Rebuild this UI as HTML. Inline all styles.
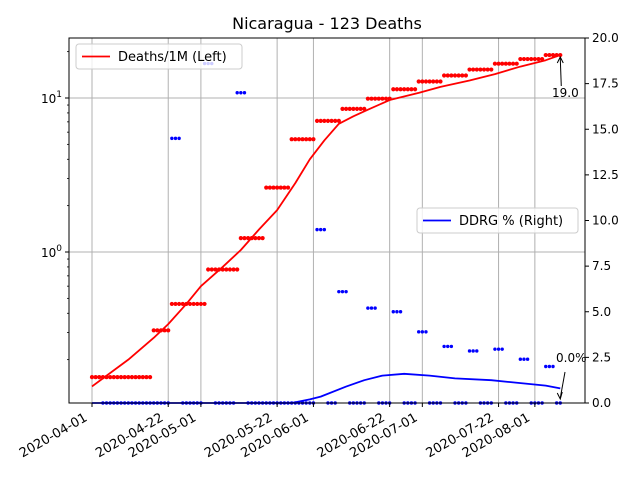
<!DOCTYPE html>
<html><head><meta charset="utf-8"><style>
body{margin:0;background:#fff}
svg text{font-family:"DejaVu Sans","Liberation Sans",sans-serif}
</style></head><body>
<svg id="c" width="640" height="480" xmlns="http://www.w3.org/2000/svg"></svg>
<script>
// ---- data ----
const startDate = "2020-04-01";
const tickLabels = ["2020-04-01","2020-04-22","2020-05-01","2020-05-22","2020-06-01","2020-06-22","2020-07-01","2020-07-22","2020-08-01"];
const tickDays = [0,21,30,51,61,82,91,112,122];
const rightTicks = [0,2.5,5,7.5,10,12.5,15,17.5,20];
// deaths step groups: start day, end day, deaths per 1M
const stepStart = [0,17,22,32,41,48,55,62,69,76,83,90,97,104,111,118,125];
const stepEnd   = [16,21,31,40,47,54,61,68,75,82,89,96,103,110,117,124,129];
const stepVal   = [0.154,0.31,0.46,0.77,1.23,2.62,5.4,7.1,8.5,9.9,11.4,12.8,14.0,15.3,16.7,17.9,19.0];
// smoothed deaths line
const lineDays = [0,10,17,21,26,30,36,41,46,51,56,60,64,68,72,76,82,90,96,104,111,118,125,129];
const lineVals = [0.134,0.2,0.277,0.34,0.46,0.6,0.8,1.03,1.4,1.87,2.8,4.0,5.3,6.8,7.6,8.4,9.7,10.8,11.8,13.0,14.3,16.0,17.6,19.0];
// DDRG spikes
const spikeStart = [22,31,40,62,68,76,83,90,97,104,111,118,125];
const spikeVal   = [14.5,18.6,17.0,9.5,6.1,5.2,5.0,3.9,3.1,2.85,2.95,2.4,2.0];
const ddrgDays = [0,50,55,60,63,70,75,80,86,93,100,110,115,125,129];
const ddrgVals = [0,0,0,0.2,0.35,0.9,1.25,1.5,1.6,1.5,1.35,1.25,1.15,0.95,0.8];

// ---- axes ----
const L=69,R=585,T=38,B=403;
const x=d=>92+d*3.63;
const yl=v=>252-154*Math.log10(v);
const yr=v=>B-(v/20)*(B-T);
const svg=document.getElementById('c');
const NS="http://www.w3.org/2000/svg";
function el(t,a,p){const e=document.createElementNS(NS,t);for(const k in a)e.setAttribute(k,a[k]);(p||svg).appendChild(e);return e;}

// grid
tickDays.forEach(d=>{const g=el('line',{x1:x(d),x2:x(d),y1:T,y2:B,stroke:'#b0b0b0','stroke-width':1});

});
[1,10].forEach(v=>{const g=el('line',{x1:L,x2:R,y1:yl(v),y2:yl(v),stroke:'#b0b0b0','stroke-width':1});

});

// red line
let pts=lineDays.map((d,i)=>x(d)+','+yl(lineVals[i])).join(' ');
const rl=el('polyline',{points:pts,fill:'none',stroke:'#ff0000','stroke-width':1.8,'stroke-linejoin':'round'});


// red dots
stepStart.forEach((s,i)=>{for(let d=s;d<=stepEnd[i];d++){const c=el('circle',{cx:x(d),cy:yl(stepVal[i]),r:2.1,fill:'#ff0000'});

}});
// blue line
pts=ddrgDays.map((d,i)=>x(d)+','+yr(ddrgVals[i])).join(' ');
const bl=el('polyline',{points:pts,fill:'none',stroke:'#0000ff','stroke-width':1.8,'stroke-linejoin':'round'});


// blue dots
const spikeDays={};spikeStart.forEach((s,i)=>{for(let k=0;k<3;k++)spikeDays[s+k]=spikeVal[i];});
for(let d=3;d<=129;d++){const v=spikeDays[d]!==undefined?spikeDays[d]:0;
const c=el('circle',{cx:x(d),cy:yr(v),r:1.7,fill:'#0000ff'});

}

// frame
const fr=el('rect',{x:L,y:T,width:R-L,height:B-T,fill:'none',stroke:'#000','stroke-width':1});



// x ticks
tickDays.forEach((d,i)=>{el('line',{x1:x(d),x2:x(d),y1:B,y2:B+4,stroke:'#000'});
const ax=x(d)-4, ay=B+17;
const t=el('text',{x:ax,y:ay,'font-size':13,'text-anchor':'end',transform:`rotate(-30 ${ax} ${ay})`});
t.textContent=tickLabels[i];

});
// left log ticks
[1,10].forEach((v,i)=>{el('line',{x1:L-4,x2:L,y1:yl(v),y2:yl(v),stroke:'#000'});
const t=el('text',{x:L-7,y:yl(v)+5,'font-size':12,'text-anchor':'end'});
t.innerHTML='10<tspan dy="-6" font-size="9">'+(i)+'</tspan>';

});
for(let e=-1;e<=1;e++)for(let m=2;m<=9;m++){const v=m*Math.pow(10,e);const yy=yl(v);if(yy>T&&yy<B)el('line',{x1:L-2,x2:L,y1:yy,y2:yy,stroke:'#000','stroke-width':0.8});}
// right ticks
rightTicks.forEach(v=>{el('line',{x1:R,x2:R+4,y1:yr(v),y2:yr(v),stroke:'#000'});
const t=el('text',{x:R+7,y:yr(v)+4,'font-size':12});t.textContent=v.toFixed(1);

});

// title
const ti=el('text',{x:327,y:29,'font-size':16,'text-anchor':'middle'});ti.textContent='Nicaragua - 123 Deaths';



// annotations
const lastX=x(129);
el('line',{x1:lastX+1,y1:86,x2:lastX,y2:58,stroke:'#000'});
el('path',{d:`M${lastX-3},${63} L${lastX},${57} L${lastX+3},${63}`,fill:'none',stroke:'#000'});
const a1=el('text',{x:552,y:97,'font-size':12});a1.textContent='19.0';


el('line',{x1:565,y1:372,x2:lastX,y2:398,stroke:'#000'});
el('path',{d:`M${lastX-3},${393} L${lastX},${399} L${lastX+2},${392}`,fill:'none',stroke:'#000'});
const a2=el('text',{x:556,y:362,'font-size':12});a2.textContent='0.0%';



// legends
function legend(x0,y0,w,color,label,name){const g=el('g',{});


el('rect',{x:x0,y:y0,width:w,height:25,rx:3,fill:'#fff','fill-opacity':0.8,stroke:'#ccc'},g);
el('line',{x1:x0+6,x2:x0+34,y1:y0+12.5,y2:y0+12.5,stroke:color,'stroke-width':1.8},g);
const t=el('text',{x:x0+42,y:y0+17,'font-size':13},g);t.textContent=label;}
legend(76,44,166,'#ff0000','Deaths/1M (Left)','legend-deaths');
legend(417,208,161,'#0000ff','DDRG % (Right)','legend-ddrg');
</script>
</body></html>
